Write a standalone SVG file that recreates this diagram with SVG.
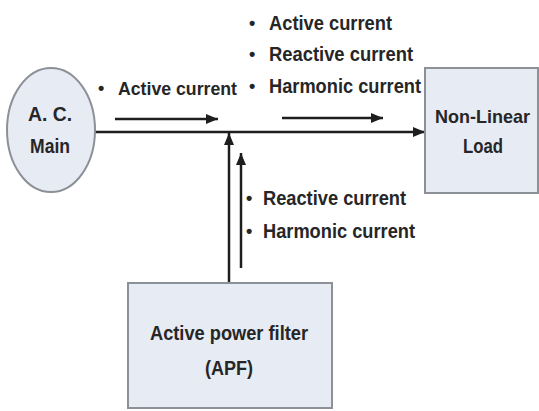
<svg xmlns="http://www.w3.org/2000/svg" width="539" height="411" viewBox="0 0 539 411">
<style>
.node{fill:#e6ebf4;stroke:#8c9097;stroke-width:2}
.t{font-family:"Liberation Sans",Arial,sans-serif;font-weight:bold;font-size:21px;fill:#262626}
.s{font-size:19px}
.b{font-family:"Liberation Sans",Arial,sans-serif;font-weight:bold;font-size:18px;fill:#262626}
.c{text-anchor:middle}
.w{stroke:#1e1e1e;stroke-width:2.5;fill:none}
</style>
<defs>
<marker id="ah" markerUnits="userSpaceOnUse" markerWidth="12" markerHeight="10" viewBox="0 0 12 10" refX="12" refY="5" orient="auto">
<path d="M0,0 L12,5 L0,10 z" fill="#1e1e1e"/>
</marker>
</defs>
<rect width="539" height="411" fill="#ffffff"/>
<g id="connectors">
<line class="w" x1="95" y1="132" x2="425" y2="132" marker-end="url(#ah)"/>
<line class="w" x1="229" y1="283" x2="229" y2="133" marker-end="url(#ah)"/>
<line class="w" x1="115" y1="119" x2="218" y2="119" marker-end="url(#ah)"/>
<line class="w" x1="282" y1="118" x2="383" y2="118" marker-end="url(#ah)"/>
<line class="w" x1="241" y1="268" x2="241" y2="153" marker-end="url(#ah)"/>
</g>
<g id="labels">
<text class="b" x="98" y="94">•</text>
<text class="t s" x="118" y="95" textLength="119" lengthAdjust="spacingAndGlyphs">Active current</text>
<text class="b" x="249" y="29">•</text>
<text class="t" x="269" y="30" textLength="123" lengthAdjust="spacingAndGlyphs">Active current</text>
<text class="b" x="249" y="60">•</text>
<text class="t" x="269" y="61" textLength="144" lengthAdjust="spacingAndGlyphs">Reactive current</text>
<text class="b" x="249" y="92">•</text>
<text class="t" x="269" y="93" textLength="152" lengthAdjust="spacingAndGlyphs">Harmonic current</text>
<text class="b" x="246" y="204">•</text>
<text class="t" x="263" y="205" textLength="143" lengthAdjust="spacingAndGlyphs">Reactive current</text>
<text class="b" x="246" y="237">•</text>
<text class="t" x="263" y="238" textLength="152" lengthAdjust="spacingAndGlyphs">Harmonic current</text>
</g>
<g id="ac-main">
<ellipse class="node" cx="51" cy="130" rx="44" ry="62"/>
<text class="t c" x="50" y="121" textLength="44" lengthAdjust="spacingAndGlyphs">A. C.</text>
<text class="t c" x="50" y="153" textLength="40" lengthAdjust="spacingAndGlyphs">Main</text>
</g>
<g id="load">
<rect class="node" x="425" y="68" width="113" height="125"/>
<text class="t s c" x="482.5" y="123" textLength="95" lengthAdjust="spacingAndGlyphs">Non-Linear</text>
<text class="t c" x="483" y="153" textLength="40" lengthAdjust="spacingAndGlyphs">Load</text>
</g>
<g id="apf">
<rect class="node" x="128" y="283" width="204" height="125"/>
<text class="t c" x="229" y="340" textLength="158" lengthAdjust="spacingAndGlyphs">Active power filter</text>
<text class="t c" x="229" y="375" textLength="48" lengthAdjust="spacingAndGlyphs">(APF)</text>
</g>
</svg>
